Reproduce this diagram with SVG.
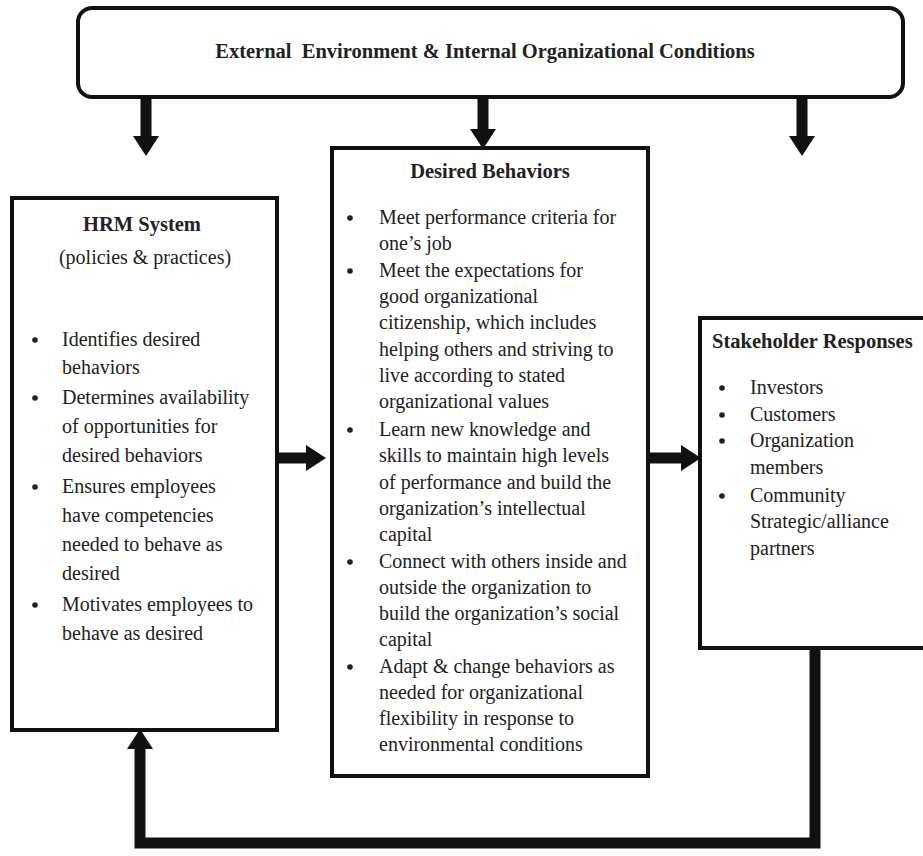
<svg xmlns="http://www.w3.org/2000/svg" width="923" height="856" viewBox="0 0 923 856">
<style>
.box{fill:#fff;stroke:#111;stroke-width:4}
.t{font-family:"Liberation Serif","Times New Roman",serif;font-size:20px;fill:#222}
.b{font-weight:bold;font-size:20.5px}
.c{text-anchor:middle}
.conn{stroke:#111;stroke-width:11;fill:none}
.dot{fill:#222}
</style>
<defs>
<marker id="ah" markerUnits="userSpaceOnUse" markerWidth="20" markerHeight="26" refX="0" refY="13" orient="auto">
<path d="M0,0 L20,13 L0,26 z" fill="#111"/>
</marker>
</defs>
<rect width="923" height="856" fill="#fff"/>
<g id="connectors">
<line class="conn" x1="146" y1="97" x2="146" y2="136" marker-end="url(#ah)"/>
<line class="conn" x1="483" y1="97" x2="483" y2="129" marker-end="url(#ah)"/>
<line class="conn" x1="802" y1="97" x2="802" y2="136" marker-end="url(#ah)"/>
<line class="conn" x1="278" y1="458" x2="306" y2="458" marker-end="url(#ah)"/>
<line class="conn" x1="648" y1="458" x2="681" y2="458" marker-end="url(#ah)"/>
<polyline class="conn" points="815,646 815,843 140,843 140,749" marker-end="url(#ah)"/>
</g>
<g id="external">
<rect class="box" x="78" y="8" width="825" height="89" rx="14"/>
<text class="t b c" x="485" y="58" xml:space="preserve">External  Environment &amp; Internal Organizational Conditions</text>
</g>
<g id="hrm">
<rect class="box" x="12" y="198" width="265" height="532"/>
<text class="t b c" x="142" y="231">HRM System</text>
<text class="t c" x="145" y="264">(policies &amp; practices)</text>
<circle class="dot" cx="35" cy="340" r="2.8"/>
<circle class="dot" cx="35" cy="398" r="2.8"/>
<circle class="dot" cx="35" cy="487" r="2.8"/>
<circle class="dot" cx="35" cy="605" r="2.8"/>
<text class="t" x="62" y="346">Identifies desired</text>
<text class="t" x="62" y="374">behaviors</text>
<text class="t" x="62" y="404">Determines availability</text>
<text class="t" x="62" y="433">of opportunities for</text>
<text class="t" x="62" y="462">desired behaviors</text>
<text class="t" x="62" y="493">Ensures employees</text>
<text class="t" x="62" y="522">have competencies</text>
<text class="t" x="62" y="551">needed to behave as</text>
<text class="t" x="62" y="580">desired</text>
<text class="t" x="62" y="611">Motivates employees to</text>
<text class="t" x="62" y="640">behave as desired</text>
</g>
<g id="desired">
<rect class="box" x="332" y="148" width="316" height="628"/>
<text class="t b c" x="490" y="178">Desired Behaviors</text>
<circle class="dot" cx="350" cy="218" r="2.8"/>
<circle class="dot" cx="350" cy="271" r="2.8"/>
<circle class="dot" cx="350" cy="430" r="2.8"/>
<circle class="dot" cx="350" cy="562" r="2.8"/>
<circle class="dot" cx="350" cy="667" r="2.8"/>
<text class="t" x="379" y="224">Meet performance criteria for</text>
<text class="t" x="379" y="250">one’s job</text>
<text class="t" x="379" y="277">Meet the expectations for</text>
<text class="t" x="379" y="303">good organizational</text>
<text class="t" x="379" y="329">citizenship, which includes</text>
<text class="t" x="379" y="356">helping others and striving to</text>
<text class="t" x="379" y="382">live according to stated</text>
<text class="t" x="379" y="408">organizational values</text>
<text class="t" x="379" y="436">Learn new knowledge and</text>
<text class="t" x="379" y="462">skills to maintain high levels</text>
<text class="t" x="379" y="489">of performance and build the</text>
<text class="t" x="379" y="515">organization’s intellectual</text>
<text class="t" x="379" y="541">capital</text>
<text class="t" x="379" y="568">Connect with others inside and</text>
<text class="t" x="379" y="594">outside the organization to</text>
<text class="t" x="379" y="620">build the organization’s social</text>
<text class="t" x="379" y="646">capital</text>
<text class="t" x="379" y="673">Adapt &amp; change behaviors as</text>
<text class="t" x="379" y="699">needed for organizational</text>
<text class="t" x="379" y="725">flexibility in response to</text>
<text class="t" x="379" y="751">environmental conditions</text>
</g>
<g id="stakeholder">
<rect class="box" x="700" y="318" width="240" height="330"/>
<text class="t b" x="712" y="348">Stakeholder Responses</text>
<circle class="dot" cx="722" cy="388" r="2.8"/>
<circle class="dot" cx="722" cy="415" r="2.8"/>
<circle class="dot" cx="722" cy="441" r="2.8"/>
<circle class="dot" cx="722" cy="496" r="2.8"/>
<text class="t" x="750" y="394">Investors</text>
<text class="t" x="750" y="421">Customers</text>
<text class="t" x="750" y="447">Organization</text>
<text class="t" x="750" y="474">members</text>
<text class="t" x="750" y="502">Community</text>
<text class="t" x="750" y="528">Strategic/alliance</text>
<text class="t" x="750" y="555">partners</text>
</g>
</svg>
